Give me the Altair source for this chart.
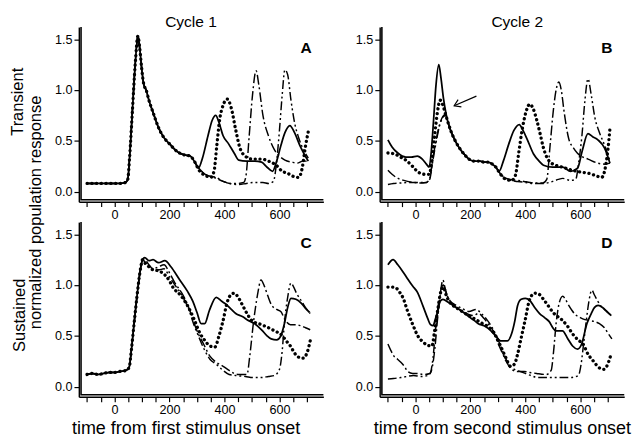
import altair as alt
import pandas as pd

# ---------------- data ----------------
# Panel A: Cycle 1, transient
A_common = [(-100, 0.08), (-60, 0.08), (-20, 0.08), (20, 0.08), (40, 0.09), (48, 0.12), (55, 0.35),
            (65, 0.8), (75, 1.25), (85, 1.53), (92, 1.4), (100, 1.18), (106, 1.06), (115, 1.0),
            (125, 0.9), (140, 0.78), (160, 0.63), (180, 0.53), (200, 0.47), (230, 0.39), (255, 0.36),
            (275, 0.35), (290, 0.3)]
A_solid = A_common + [(305, 0.23), (320, 0.33), (340, 0.55), (355, 0.7), (368, 0.75), (380, 0.68),
                      (395, 0.55), (415, 0.47), (435, 0.38), (452, 0.31), (480, 0.3), (510, 0.3),
                      (535, 0.29), (555, 0.24), (575, 0.2), (590, 0.3), (605, 0.45), (620, 0.58),
                      (638, 0.65), (655, 0.58), (675, 0.45), (690, 0.37), (705, 0.3)]
A_dot = A_common + [(310, 0.2), (330, 0.16), (350, 0.14), (362, 0.2), (372, 0.45), (382, 0.7),
                    (395, 0.85), (410, 0.91), (425, 0.82), (440, 0.62), (455, 0.44), (475, 0.35),
                    (500, 0.32), (535, 0.32), (560, 0.3), (588, 0.26), (610, 0.2), (630, 0.18),
                    (650, 0.15), (670, 0.14), (682, 0.22), (695, 0.45), (708, 0.63)]
A_dashdot = A_common + [(310, 0.22), (330, 0.17), (350, 0.15), (370, 0.14), (395, 0.1), (420, 0.08),
                        (445, 0.08), (470, 0.09), (478, 0.15), (490, 0.55), (502, 0.95), (515, 1.19),
                        (525, 1.05), (540, 0.75), (560, 0.55), (582, 0.41), (600, 0.35), (620, 0.31),
                        (645, 0.29), (665, 0.28), (685, 0.3), (705, 0.3)]
A_dashdotdot = A_common + [(310, 0.22), (330, 0.17), (350, 0.15), (370, 0.13), (395, 0.1), (420, 0.08),
                           (450, 0.07), (480, 0.08), (510, 0.09), (540, 0.09), (560, 0.08), (578, 0.1),
                           (590, 0.3), (600, 0.6), (610, 0.95), (620, 1.2), (630, 1.15), (642, 0.9),
                           (655, 0.68), (670, 0.53), (690, 0.4), (705, 0.33)]

# Panel B: Cycle 2, transient
B_decay = [(130, 0.59), (145, 0.5), (160, 0.43), (180, 0.36), (195, 0.32), (215, 0.3), (235, 0.3),
           (250, 0.29), (265, 0.29), (280, 0.27), (293, 0.24)]
B_solid = [(-100, 0.51), (-85, 0.44), (-64, 0.38), (-35, 0.34), (-15, 0.34), (7, 0.35), (25, 0.32),
           (40, 0.27), (50, 0.24), (58, 0.4), (66, 0.7), (75, 1.05), (85, 1.25), (93, 1.12),
           (102, 0.92), (112, 0.76), (120, 0.67)] + B_decay + \
          [(305, 0.2), (320, 0.3), (340, 0.47), (358, 0.6), (378, 0.66), (392, 0.6), (406, 0.52),
           (430, 0.37), (450, 0.3), (466, 0.26), (500, 0.24), (536, 0.24), (565, 0.2), (590, 0.23),
           (607, 0.4), (628, 0.57), (645, 0.54), (664, 0.51), (688, 0.43), (708, 0.28)]
B_dot = [(-100, 0.38), (-75, 0.37), (-55, 0.34), (-35, 0.31), (-11, 0.25), (11, 0.19), (35, 0.17),
         (50, 0.17), (60, 0.3), (70, 0.55), (80, 0.78), (90, 0.9), (100, 0.85), (110, 0.76),
         (120, 0.67)] + B_decay + \
        [(310, 0.17), (330, 0.12), (350, 0.11), (364, 0.16), (376, 0.38), (388, 0.6), (402, 0.78),
         (416, 0.86), (428, 0.82), (441, 0.71), (453, 0.58), (466, 0.43), (487, 0.3), (510, 0.26),
         (536, 0.24), (571, 0.21), (607, 0.19), (630, 0.18), (653, 0.16), (678, 0.14), (690, 0.22),
         (700, 0.4), (708, 0.62)]
B_dashdot = [(-100, 0.21), (-85, 0.17), (-70, 0.14), (-42, 0.11), (-7, 0.09), (20, 0.085), (40, 0.09),
             (52, 0.13), (62, 0.3), (75, 0.5), (88, 0.66), (100, 0.74), (109, 0.76), (120, 0.67)] + B_decay + \
            [(305, 0.19), (324, 0.14), (345, 0.12), (371, 0.11), (395, 0.1), (417, 0.09), (440, 0.085),
             (464, 0.085), (478, 0.12), (490, 0.45), (502, 0.8), (512, 1.0), (522, 1.08), (532, 0.98),
             (540, 0.81), (558, 0.52), (575, 0.43), (589, 0.38), (610, 0.34), (628, 0.32), (664, 0.28),
             (690, 0.27), (708, 0.28)]
B_dashdotdot = [(-100, 0.07), (-80, 0.08), (-53, 0.085), (-20, 0.09), (10, 0.09), (40, 0.09), (52, 0.12),
                (62, 0.28), (75, 0.48), (88, 0.65), (100, 0.73), (109, 0.75), (120, 0.67)] + B_decay + \
               [(305, 0.19), (324, 0.13), (345, 0.11), (371, 0.1), (400, 0.09), (430, 0.08), (464, 0.08),
                (500, 0.1), (520, 0.12), (536, 0.13), (565, 0.11), (583, 0.12), (595, 0.3), (606, 0.55),
                (617, 0.9), (628, 1.11), (640, 0.95), (653, 0.73), (670, 0.58), (688, 0.46), (708, 0.3)]

# Panel C: Cycle 1, sustained
C_common = [(-100, 0.12), (-80, 0.13), (-60, 0.12), (-40, 0.13), (-20, 0.14), (0, 0.14), (20, 0.15),
            (42, 0.16), (53, 0.19), (62, 0.38), (71, 0.62), (82, 0.9), (95, 1.17), (102, 1.25)]
C_solid = C_common + [(110, 1.27), (125, 1.24), (140, 1.25), (160, 1.22), (183, 1.24), (205, 1.18),
                      (235, 1.06), (265, 0.94), (285, 0.84), (300, 0.73), (315, 0.62), (328, 0.62),
                      (345, 0.75), (370, 0.88), (390, 0.84), (406, 0.81), (425, 0.76), (441, 0.72),
                      (465, 0.69), (488, 0.65), (510, 0.62), (535, 0.56), (555, 0.5), (570, 0.47),
                      (590, 0.46), (605, 0.5), (618, 0.62), (630, 0.78), (642, 0.87), (660, 0.86),
                      (680, 0.82), (695, 0.77), (710, 0.73)]
C_dot = C_common + [(110, 1.22), (125, 1.18), (140, 1.15), (160, 1.14), (183, 1.1), (200, 1.04),
                    (212, 0.98), (240, 0.9), (265, 0.8), (290, 0.66), (310, 0.53), (330, 0.45),
                    (347, 0.4), (365, 0.39), (380, 0.5), (394, 0.64), (411, 0.84), (425, 0.91),
                    (435, 0.92), (450, 0.88), (464, 0.81), (482, 0.72), (500, 0.65), (535, 0.61),
                    (560, 0.58), (582, 0.55), (611, 0.5), (625, 0.45), (640, 0.4), (655, 0.33),
                    (670, 0.29), (685, 0.28), (700, 0.33), (712, 0.45)]
C_dashdot = C_common + [(110, 1.25), (125, 1.2), (140, 1.16), (160, 1.18), (180, 1.2), (200, 1.12),
                        (220, 1.02), (245, 0.92), (270, 0.78), (290, 0.62), (305, 0.52), (324, 0.42),
                        (347, 0.3), (370, 0.24), (395, 0.2), (417, 0.16), (435, 0.13), (452, 0.12),
                        (482, 0.12), (492, 0.3), (505, 0.62), (520, 0.9), (533, 1.05), (545, 0.99),
                        (557, 0.9), (570, 0.81), (590, 0.76), (605, 0.74), (620, 0.66), (640, 0.61),
                        (660, 0.61), (677, 0.6), (695, 0.58), (712, 0.56)]
C_dashdotdot = C_common + [(110, 1.23), (125, 1.18), (140, 1.15), (160, 1.15), (180, 1.16), (200, 1.08),
                           (220, 1.0), (245, 0.9), (270, 0.76), (290, 0.6), (305, 0.5), (324, 0.38),
                           (347, 0.27), (370, 0.22), (395, 0.16), (417, 0.12), (440, 0.11), (476, 0.1),
                           (505, 0.09), (535, 0.09), (560, 0.1), (582, 0.11), (600, 0.17), (610, 0.35),
                           (618, 0.62), (630, 0.88), (642, 1.02), (652, 0.98), (662, 0.92), (681, 0.84),
                           (697, 0.77), (712, 0.72)]

# Panel D: Cycle 2, sustained
D_solid = [(-100, 1.2), (-81, 1.25), (-64, 1.2), (-45, 1.13), (-28, 1.06), (-10, 0.99), (7, 0.93),
           (28, 0.79), (45, 0.67), (55, 0.61), (64, 0.6), (72, 0.66), (81, 0.74), (90, 0.84), (100, 0.86),
           (120, 0.83), (148, 0.78), (170, 0.74), (194, 0.69), (215, 0.65), (229, 0.62), (250, 0.6),
           (275, 0.55), (292, 0.5), (310, 0.45), (335, 0.45), (350, 0.52), (362, 0.65), (372, 0.8),
           (385, 0.86), (400, 0.87), (416, 0.85), (434, 0.78), (452, 0.72), (470, 0.68), (487, 0.64),
           (500, 0.58), (511, 0.55), (535, 0.55), (555, 0.47), (572, 0.4), (590, 0.37), (605, 0.42),
           (624, 0.62), (640, 0.72), (652, 0.78), (665, 0.8), (681, 0.78), (697, 0.74), (713, 0.7)]
D_dot = [(-100, 0.98), (-85, 0.98), (-70, 0.97), (-55, 0.92), (-46, 0.88), (-28, 0.74), (-11, 0.62),
         (11, 0.49), (28, 0.44), (42, 0.41), (60, 0.4), (70, 0.55), (81, 0.75), (92, 0.93), (102, 0.98),
         (112, 0.9), (125, 0.83), (148, 0.78), (170, 0.74), (194, 0.7), (220, 0.66), (245, 0.62),
         (270, 0.58), (292, 0.5), (310, 0.4), (330, 0.28), (346, 0.2), (360, 0.22), (372, 0.32),
         (385, 0.48), (399, 0.65), (416, 0.86), (434, 0.92), (450, 0.91), (466, 0.86), (485, 0.79),
         (501, 0.73), (518, 0.69), (536, 0.65), (555, 0.59), (572, 0.52), (592, 0.46), (610, 0.42),
         (628, 0.32), (645, 0.26), (660, 0.21), (672, 0.18), (685, 0.17), (698, 0.21), (710, 0.3)]
D_dashdot = [(-100, 0.42), (-90, 0.36), (-78, 0.3), (-65, 0.27), (-53, 0.24), (-40, 0.2), (-28, 0.15),
             (-10, 0.13), (7, 0.13), (30, 0.12), (53, 0.13), (62, 0.2), (71, 0.38), (80, 0.65), (90, 0.9),
             (100, 1.05), (108, 0.97), (118, 0.88), (140, 0.8), (160, 0.76), (185, 0.72), (210, 0.7),
             (230, 0.72), (250, 0.67), (270, 0.6), (285, 0.54), (300, 0.43), (315, 0.34), (330, 0.25),
             (347, 0.18), (370, 0.15), (395, 0.15), (416, 0.14), (441, 0.13), (476, 0.12), (494, 0.16),
             (503, 0.35), (512, 0.62), (524, 0.83), (536, 0.89), (548, 0.85), (558, 0.8), (570, 0.75),
             (582, 0.71), (600, 0.68), (617, 0.66), (635, 0.65), (653, 0.64), (670, 0.62), (688, 0.58),
             (700, 0.53), (715, 0.47)]
D_dashdotdot = [(-100, 0.075), (-80, 0.08), (-53, 0.09), (-30, 0.1), (-7, 0.11), (20, 0.1), (45, 0.11),
                (55, 0.14), (64, 0.28), (73, 0.55), (83, 0.8), (92, 0.95), (102, 1.0), (112, 0.92),
                (125, 0.85), (148, 0.8), (170, 0.77), (195, 0.74), (220, 0.76), (240, 0.72), (260, 0.66),
                (280, 0.58), (295, 0.5), (310, 0.4), (325, 0.3), (340, 0.22), (360, 0.17), (380, 0.15),
                (400, 0.13), (420, 0.11), (445, 0.09), (476, 0.09), (505, 0.09), (536, 0.09), (565, 0.09),
                (593, 0.11), (603, 0.22), (612, 0.42), (622, 0.65), (632, 0.85), (642, 0.95), (652, 0.9),
                (664, 0.84), (676, 0.79), (688, 0.76), (700, 0.73), (713, 0.7)]

# arrow annotation in panel B (tail -> head, data coordinates)
arrow_tail = (222, 0.94)
arrow_head = (141, 0.845)

panel_series = {
    "A": {"solid": A_solid, "dot": A_dot, "dashdot": A_dashdot, "dashdotdot": A_dashdotdot},
    "B": {"solid": B_solid, "dot": B_dot, "dashdot": B_dashdot, "dashdotdot": B_dashdotdot},
    "C": {"solid": C_solid, "dot": C_dot, "dashdot": C_dashdot, "dashdotdot": C_dashdotdot},
    "D": {"solid": D_solid, "dot": D_dot, "dashdot": D_dashdot, "dashdotdot": D_dashdotdot},
}

rows = []
for panel, series in panel_series.items():
    for style, pts in series.items():
        for t, v in pts:
            rows.append({"panel": panel, "style": style, "t": t, "v": v})
df = pd.DataFrame(rows)

# ---------------- styling ----------------
FONT = "Liberation Sans"
W, H = 252, 180
X_DOMAIN = [-130, 760]
Y_DOMAIN = [-0.1, 1.62]
xscale = alt.Scale(domain=X_DOMAIN, nice=False, zero=False)
yscale = alt.Scale(domain=Y_DOMAIN, nice=False, zero=False)

line_styles = {
    "solid": dict(strokeWidth=1.8),
    "dot": dict(strokeWidth=3.4, strokeDash=[0.1, 4.8], strokeCap="round"),
    "dashdot": dict(strokeWidth=1.5, strokeDash=[10, 3, 2, 3]),
    "dashdotdot": dict(strokeWidth=1.5, strokeDash=[9, 3, 2, 3, 2, 3]),
}

AXIS_COMMON = dict(grid=False, domain=True, domainColor="#000000", domainOpacity=1, domainWidth=1.5,
                   ticks=True, tickSize=5, tickColor="black", tickWidth=1.2,
                   labelColor="black", labelFontSize=13, labelPadding=2, zindex=2)


def x_axis(title=None, **extra):
    kw = dict(values=list(range(-100, 701, 50)), format="d",
              labelExpr="datum.value % 200 === 0 ? datum.label : ''",
              labelOverlap=False, labelFlush=False, **AXIS_COMMON)
    if title:
        kw.update(title=title, titleFontSize=18.5, titleFontWeight="normal",
                  titleColor="black", titlePadding=3, **extra)
    else:
        kw.update(title=None)
    return alt.Axis(**kw)


def y_axis(title=None, **extra):
    kw = dict(values=[0, 0.5, 1.0, 1.5], format=".1f", **AXIS_COMMON)
    if title:
        kw.update(title=title, titleFontSize=17, titleFontWeight="normal",
                  titleColor="black", **extra)
    else:
        kw.update(title=None)
    return alt.Axis(**kw)


# L-shaped axis frame just inside the left / lower edges of the scale domains (one polyline)
frame = pd.DataFrame({
    "t": [X_DOMAIN[0] + 8, X_DOMAIN[0] + 8, X_DOMAIN[1]],
    "v": [Y_DOMAIN[1], Y_DOMAIN[0] + 0.02, Y_DOMAIN[0] + 0.02],
    "k": [0, 1, 2],
})


def panel(name, xtitle=None, xtitle_extra=None, ytitle=None, ytitle_extra=None, title=None, arrow=False):
    xa = x_axis(xtitle, **(xtitle_extra or {}))
    ya = y_axis(ytitle, **(ytitle_extra or {}))
    base = alt.Chart(df).transform_filter(alt.datum.panel == name)
    layers = []
    for style, props in line_styles.items():
        layers.append(
            base.transform_filter(alt.datum.style == style)
            .mark_line(color="black", interpolate="monotone", **props)
            .encode(
                x=alt.X("t:Q", scale=xscale, axis=xa),
                y=alt.Y("v:Q", scale=yscale, axis=ya),
            )
        )
    layers.append(alt.Chart(frame).mark_line(color="#000000", strokeWidth=1.6, opacity=1).encode(
        x=alt.X("t:Q", scale=xscale, axis=xa),
        y=alt.Y("v:Q", scale=yscale, axis=ya),
        order="k:Q"))
    letter = alt.Chart(pd.DataFrame({"label": [name]})).mark_text(
        align="right", baseline="top", fontSize=16, fontWeight="bold", color="black", font=FONT
    ).encode(x=alt.value(W - 12), y=alt.value(14), text="label:N")
    layers.append(letter)
    if arrow:
        adf = pd.DataFrame({"t": [arrow_tail[0]], "v": [arrow_tail[1]],
                            "t2": [arrow_head[0]], "v2": [arrow_head[1]]})
        layers.append(alt.Chart(adf).mark_rule(color="black", strokeWidth=1.2).encode(
            x=alt.X("t:Q", scale=xscale, axis=xa), y=alt.Y("v:Q", scale=yscale, axis=ya),
            x2="t2:Q", y2="v2:Q"))
        hdf = pd.DataFrame({"t": [arrow_head[0]], "v": [arrow_head[1]]})
        layers.append(alt.Chart(hdf).mark_point(
            shape="M -1 -0.65 L 0 0 L -1 0.65", filled=False, color="black",
            strokeWidth=1.2, size=160, angle=156, opacity=1
        ).encode(x=alt.X("t:Q", scale=xscale, axis=xa), y=alt.Y("v:Q", scale=yscale, axis=ya)))
    ch = alt.layer(*layers).properties(width=W, height=H)
    if title is not None:
        ch = ch.properties(title=title)
    return ch


A = panel("A",
          ytitle="normalized population response",
          ytitle_extra=dict(titleX=-45, titleY=H + 10.5, titleBaseline="middle", titleAngle=270),
          title=alt.TitleParams("Transient", orient="left", anchor="middle", frame="group",
                                fontSize=17, fontWeight="normal", font=FONT, offset=0, dx=13))
C = panel("C", xtitle="time from first stimulus onset",
          xtitle_extra=dict(titleX=110),
          title=alt.TitleParams("Sustained", orient="left", anchor="middle", frame="group",
                                fontSize=17, fontWeight="normal", font=FONT, offset=26, dx=-6))
B = panel("B", arrow=True)
D = panel("D", xtitle="time from second stimulus onset")

left = alt.vconcat(A, C, spacing=21, bounds="flush",
                   title=alt.TitleParams("Cycle 1", anchor="middle", fontSize=16,
                                         fontWeight="normal", font=FONT, offset=-7, dx=24))
right = alt.vconcat(B, D, spacing=21, bounds="flush",
                    title=alt.TitleParams("Cycle 2", anchor="middle", fontSize=16,
                                          fontWeight="normal", font=FONT, offset=-7, dx=25))

chart = alt.hconcat(left, right, spacing=28).properties(
    padding=0
).configure(font=FONT).configure_view(stroke="transparent")

chart.save("out.html", embed_options={"renderer": "svg", "actions": False})
